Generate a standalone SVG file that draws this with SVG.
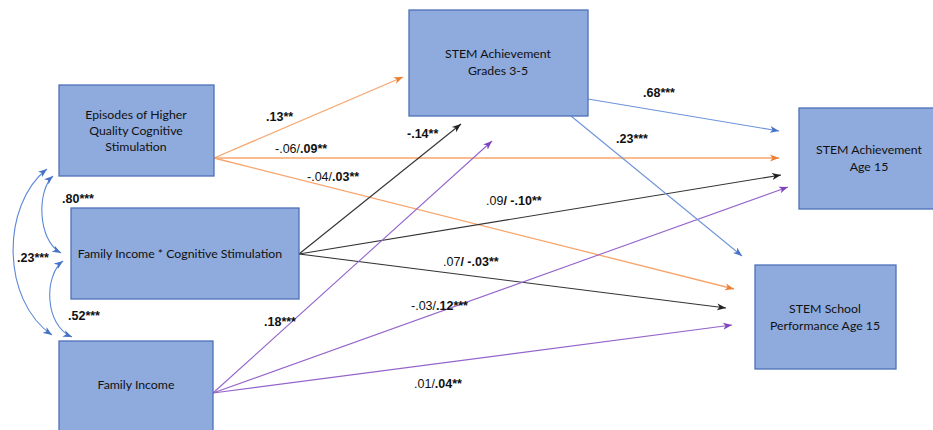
<svg xmlns="http://www.w3.org/2000/svg" width="933" height="430" viewBox="0 0 933 430">
<style>
.box{fill:#8faadc;stroke:#4d71b8;stroke-width:1.3}
.t{font-family:Lato,"Open Sans",sans-serif;font-size:12.3px;fill:#111;text-anchor:middle}
.l{font-family:"Liberation Sans",Arial,sans-serif;font-size:12.5px;fill:#111}
.b{font-weight:bold}
.or{stroke:#f7a56b;stroke-width:1.3;fill:none;marker-end:url(#mo)}
.bk{stroke:#333;stroke-width:1.1;fill:none;marker-end:url(#mk)}
.pu{stroke:#9464cc;stroke-width:1.1;fill:none;marker-end:url(#mp)}
.bl{stroke:#6c93d9;stroke-width:1.1;fill:none;marker-end:url(#mb)}
.cv{stroke:#5b87d6;stroke-width:1.1;fill:none;marker-end:url(#mb);marker-start:url(#mb)}
</style>
<defs>
<marker id="mo" markerUnits="userSpaceOnUse" markerWidth="10" markerHeight="8" refX="9" refY="4" orient="auto-start-reverse"><path d="M0,0.5 L9,4 L0,7.5 L2.5,4 z" fill="#ed7d31"/></marker>
<marker id="mk" markerUnits="userSpaceOnUse" markerWidth="10" markerHeight="8" refX="9" refY="4" orient="auto-start-reverse"><path d="M0,0.5 L9,4 L0,7.5 L2.5,4 z" fill="#222"/></marker>
<marker id="mp" markerUnits="userSpaceOnUse" markerWidth="10" markerHeight="8" refX="9" refY="4" orient="auto-start-reverse"><path d="M0,0.5 L9,4 L0,7.5 L2.5,4 z" fill="#7f45c0"/></marker>
<marker id="mb" markerUnits="userSpaceOnUse" markerWidth="10" markerHeight="8" refX="9" refY="4" orient="auto-start-reverse"><path d="M0,0.5 L9,4 L0,7.5 L2.5,4 z" fill="#4472c4"/></marker>
</defs>
<rect width="933" height="430" fill="#fff"/>
<g id="connectors">
<path class="or" d="M214,158 L403,77"/>
<path class="or" d="M214,158 L779,158"/>
<path class="or" d="M214,158 L734,289"/>
<path class="bk" d="M299,254 L461,124"/>
<path class="bk" d="M299,254 L781,175"/>
<path class="bk" d="M299,254 L726,308"/>
<path class="pu" d="M213,393 L492,141"/>
<path class="pu" d="M213,393 L788,187"/>
<path class="pu" d="M213,393 L732,325"/>
<path class="bl" d="M588,99 L779,131"/>
<path class="bl" d="M571,116 L742,256"/>
<path class="cv" d="M47,169 C1,205 1,300 52,335"/>
<path class="cv" d="M53,176 C37,190 37,240 61,253"/>
<path class="cv" d="M63,261 C44,275 44,325 72,337"/>
</g>
<g id="labels">
<text class="l b" x="266" y="121">.13**</text>
<text class="l" x="275" y="153">-.06/<tspan class="b">.09**</tspan></text>
<text class="l" x="307" y="181">-.04/<tspan class="b">.03**</tspan></text>
<text class="l b" x="407" y="138">-.14**</text>
<text class="l" x="486" y="205">.09<tspan class="b">/ -.10**</tspan></text>
<text class="l" x="443" y="266">.07<tspan class="b">/ -.03**</tspan></text>
<text class="l b" x="643" y="97">.68***</text>
<text class="l b" x="616" y="143">.23***</text>
<text class="l b" x="264" y="326">.18***</text>
<text class="l" x="411" y="310">-.03/<tspan class="b">.12***</tspan></text>
<text class="l" x="414" y="388">.01/<tspan class="b">.04**</tspan></text>
<text class="l b" x="62" y="203">.80***</text>
<text class="l b" x="17" y="262">.23***</text>
<text class="l b" x="68" y="320">.52***</text>
</g>
<g id="node-episodes">
<rect class="box" x="59" y="85" width="155" height="91"/>
<text class="t" x="136" y="119">Episodes of Higher</text>
<text class="t" x="136" y="135">Quality Cognitive</text>
<text class="t" x="136" y="151">Stimulation</text>
</g>
<g id="node-interaction">
<rect class="box" x="71" y="208" width="228" height="91"/>
<text class="t" x="180" y="258">Family Income * Cognitive Stimulation</text>
</g>
<g id="node-income">
<rect class="box" x="59" y="341" width="154" height="95"/>
<text class="t" x="136" y="389">Family Income</text>
</g>
<g id="node-grades">
<rect class="box" x="409" y="10" width="179" height="106"/>
<text class="t" x="498" y="58">STEM Achievement</text>
<text class="t" x="498" y="75">Grades 3-5</text>
</g>
<g id="node-age15">
<rect class="box" x="799" y="108" width="140" height="101"/>
<text class="t" x="869" y="154">STEM Achievement</text>
<text class="t" x="869" y="171">Age 15</text>
</g>
<g id="node-school">
<rect class="box" x="755" y="265" width="141" height="104"/>
<text class="t" x="825" y="313">STEM School</text>
<text class="t" x="825" y="330">Performance Age 15</text>
</g>
</svg>
